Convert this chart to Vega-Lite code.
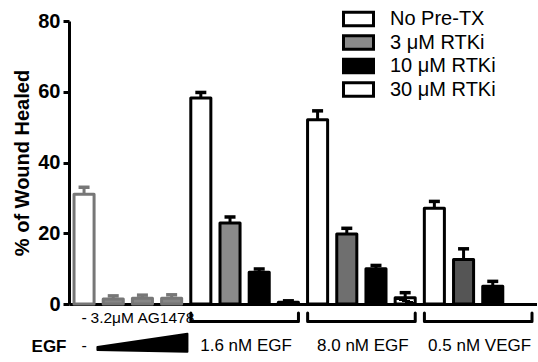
{
  "$schema": "https://vega.github.io/schema/vega-lite/v6.json",
  "padding": {"left": 12, "top": 9, "right": 0, "bottom": 0},
  "bounds": "flush",
  "spacing": 0,
  "config": {
    "font": "Liberation Sans",
    "view": {"stroke": null}
  },
  "datasets": {
    "bars": [
      {"slot": "ctrl", "group": "none", "treatment": "None", "value": 31.0, "upper": 33.0},
      {"slot": "AG a", "group": "AG1478", "treatment": "AG1478", "value": 1.4, "upper": 2.3},
      {"slot": "AG b", "group": "AG1478", "treatment": "AG1478", "value": 1.6, "upper": 2.5},
      {"slot": "AG c", "group": "AG1478", "treatment": "AG1478", "value": 1.6, "upper": 2.6},
      {"slot": "1.6 EGF No", "group": "1.6 nM EGF", "treatment": "No Pre-TX", "value": 58.2, "upper": 59.8},
      {"slot": "1.6 EGF 3", "group": "1.6 nM EGF", "treatment": "3 μM RTKi", "value": 22.9, "upper": 24.6},
      {"slot": "1.6 EGF 10", "group": "1.6 nM EGF", "treatment": "10 μM RTKi", "value": 9.0, "upper": 9.9},
      {"slot": "1.6 EGF 30", "group": "1.6 nM EGF", "treatment": "30 μM RTKi", "value": 0.5, "upper": 0.9},
      {"slot": "8.0 EGF No", "group": "8.0 nM EGF", "treatment": "No Pre-TX", "value": 52.1, "upper": 54.6},
      {"slot": "8.0 EGF 3", "group": "8.0 nM EGF", "treatment": "3 μM RTKi", "value": 19.8, "upper": 21.4},
      {"slot": "8.0 EGF 10", "group": "8.0 nM EGF", "treatment": "10 μM RTKi", "value": 10.0, "upper": 10.9},
      {"slot": "8.0 EGF 30", "group": "8.0 nM EGF", "treatment": "30 μM RTKi", "value": 1.8, "upper": 3.2},
      {"slot": "VEGF No", "group": "0.5 nM VEGF", "treatment": "No Pre-TX", "value": 27.1, "upper": 29.0},
      {"slot": "VEGF 3", "group": "0.5 nM VEGF", "treatment": "3 μM RTKi", "value": 12.6, "upper": 15.6},
      {"slot": "VEGF 10", "group": "0.5 nM VEGF", "treatment": "10 μM RTKi", "value": 5.0, "upper": 6.4}
    ],
    "labels": [
      {"label": "-", "at": "ctrl", "row": "1", "weight": "bold", "size": 16},
      {"label": "3.2μM AG1478", "at": "AG b", "row": "1", "weight": "normal", "size": 15.5},
      {"label": "-", "at": "ctrl", "row": "2", "weight": "bold", "size": 16}
    ],
    "groups": [
      {"label": "1.6 nM EGF", "at": "1.6 EGF 3"},
      {"label": "8.0 nM EGF", "at": "8.0 EGF 3"},
      {"label": "0.5 nM VEGF", "at": "VEGF 3"}
    ],
    "wedge": [
      {"at": "AG b", "row": "2"}
    ]
  },
  "resolve": {"scale": {"x": "shared"}},
  "vconcat": [
    {
      "width": 468,
      "height": 283,
      "data": {"name": "bars"},
      "encoding": {
        "x": {
          "field": "slot",
          "type": "nominal",
          "sort": null,
          "scale": {
            "domain": ["ctrl", "AG a", "AG b", "AG c", "1.6 EGF No", "1.6 EGF 3", "1.6 EGF 10", "1.6 EGF 30", "8.0 EGF No", "8.0 EGF 3", "8.0 EGF 10", "8.0 EGF 30", "VEGF No", "VEGF 3", "VEGF 10", "VEGF 30"],
            "paddingInner": 0.313,
            "paddingOuter": 0.172
          },
          "axis": {"title": null, "labels": false, "ticks": false, "domainWidth": 3, "domainColor": "black"}
        }
      },
      "layer": [
        {
          "mark": {"type": "bar", "strokeWidth": 3, "strokeJoin": "round"},
          "encoding": {
            "y": {
              "field": "value",
              "type": "quantitative",
              "scale": {"domain": [0, 80], "nice": false},
              "axis": {
                "title": "% of Wound Healed",
                "titleFontSize": 20,
                "titleFontWeight": "bold",
                "titleColor": "black",
                "titlePadding": 5,
                "values": [0, 20, 40, 60, 80],
                "labelFontSize": 20,
                "labelFontWeight": "bold",
                "labelColor": "black",
                "labelPadding": 3,
                "tickSize": 6,
                "tickWidth": 3,
                "tickColor": "black",
                "domainWidth": 3,
                "domainColor": "black",
                "grid": false
              }
            },
            "fill": {
              "condition": [
                {"test": "datum.slot === '8.0 EGF 3'", "value": "#6f6f6f"},
                {"test": "datum.slot === 'VEGF 3'", "value": "#555555"},
                {"test": "datum.treatment === '30 μM RTKi'", "value": {"gradient": "linear", "x1": 0, "y1": 1, "x2": 1, "y2": 0,
                   "stops": [
                     {"offset": 0, "color": "white"},
                     {"offset": 0.36, "color": "white"},
                     {"offset": 0.36, "color": "black"},
                     {"offset": 0.64, "color": "black"},
                     {"offset": 0.64, "color": "white"},
                     {"offset": 1, "color": "white"}
                   ]}}
              ],
              "field": "treatment",
              "type": "nominal",
              "scale": {
                "domain": ["None", "AG1478", "No Pre-TX", "3 μM RTKi", "10 μM RTKi", "30 μM RTKi"],
                "range": ["white", "#878787", "white", "#8a8a8a", "black", "white"]
              },
              "legend": {
                "title": null,
                "orient": "none",
                "legendX": 279.5,
                "legendY": -12,
                "padding": 0,
                "values": ["No Pre-TX", "3 μM RTKi", "10 μM RTKi", "30 μM RTKi"],
                "symbolType": "M-2,-0.9L2,-0.9L2,0.9L-2,0.9Z",
                "symbolSize": 225,
                "symbolStrokeColor": "black",
                "symbolStrokeWidth": 3,
                "symbolOpacity": 1,
                "labelFontSize": 20,
                "labelColor": "black",
                "labelOffset": 21.5,
                "labelLimit": 250,
                "rowPadding": -2.5
              }
            },
            "stroke": {
              "condition": {"test": "datum.treatment === 'None' || datum.treatment === 'AG1478'", "value": "#777777"},
              "value": "black"
            }
          }
        },
        {
          "mark": {"type": "rule", "strokeWidth": 3},
          "encoding": {
            "y": {"field": "value", "type": "quantitative"},
            "y2": {"field": "upper"},
            "color": {
              "condition": {"test": "datum.treatment === 'None' || datum.treatment === 'AG1478'", "value": "#777777"},
              "value": "black"
            }
          }
        },
        {
          "mark": {"type": "tick", "size": 11, "thickness": 3.5, "opacity": 1},
          "encoding": {
            "y": {"field": "upper", "type": "quantitative"},
            "color": {
              "condition": {"test": "datum.treatment === 'None' || datum.treatment === 'AG1478'", "value": "#777777"},
              "value": "black"
            }
          }
        }
      ]
    },
    {
      "width": 468,
      "height": 56,
      "encoding": {
        "y": {
          "field": "row",
          "type": "nominal",
          "scale": {"domain": ["1", "2"], "paddingInner": 0, "paddingOuter": 0},
          "axis": {
            "title": null,
            "domain": false,
            "ticks": false,
            "labelExpr": "datum.value === '2' ? 'EGF' : ''",
            "labelFontSize": 17,
            "labelFontWeight": "bold",
            "labelColor": "black",
            "labelPadding": 3
          }
        }
      },
      "layer": [
        {
          "data": {"name": "labels"},
          "mark": {"type": "text", "color": "black"},
          "encoding": {
            "x": {"field": "at", "type": "nominal", "axis": null},
            "y": {"field": "row", "type": "nominal", "bandPosition": 0.5},
            "text": {"field": "label"},
            "fontWeight": {"field": "weight", "type": "nominal", "scale": null},
            "size": {"field": "size", "type": "quantitative", "scale": null}
          }
        },
        {
          "data": {"name": "groups"},
          "mark": {"type": "point", "shape": "M-1,-0.094L-1,0.066L1,0.066L1,-0.094", "filled": false, "stroke": "black", "strokeWidth": 3, "strokeJoin": "round", "strokeCap": "round", "size": 11577, "opacity": 1},
          "encoding": {
            "x": {"field": "at", "type": "nominal", "bandPosition": 1.23, "axis": null},
            "y": {"datum": "1", "type": "nominal"}
          }
        },
        {
          "data": {"name": "groups"},
          "mark": {"type": "text", "fontSize": 17, "color": "black"},
          "encoding": {
            "x": {"field": "at", "type": "nominal", "bandPosition": 1.3, "axis": null},
            "y": {"datum": "2", "type": "nominal", "bandPosition": 0.58},
            "text": {"field": "label"}
          }
        },
        {
          "data": {"name": "wedge"},
          "mark": {"type": "point", "shape": "M-1,0.02L-1,0.09L1,0.13L1,-0.27Z", "filled": true, "color": "black", "stroke": "black", "strokeWidth": 2, "strokeJoin": "round", "size": 8100, "opacity": 1},
          "encoding": {
            "x": {"field": "at", "type": "nominal", "axis": null},
            "y": {"field": "row", "type": "nominal"}
          }
        }
      ]
    }
  ]
}
